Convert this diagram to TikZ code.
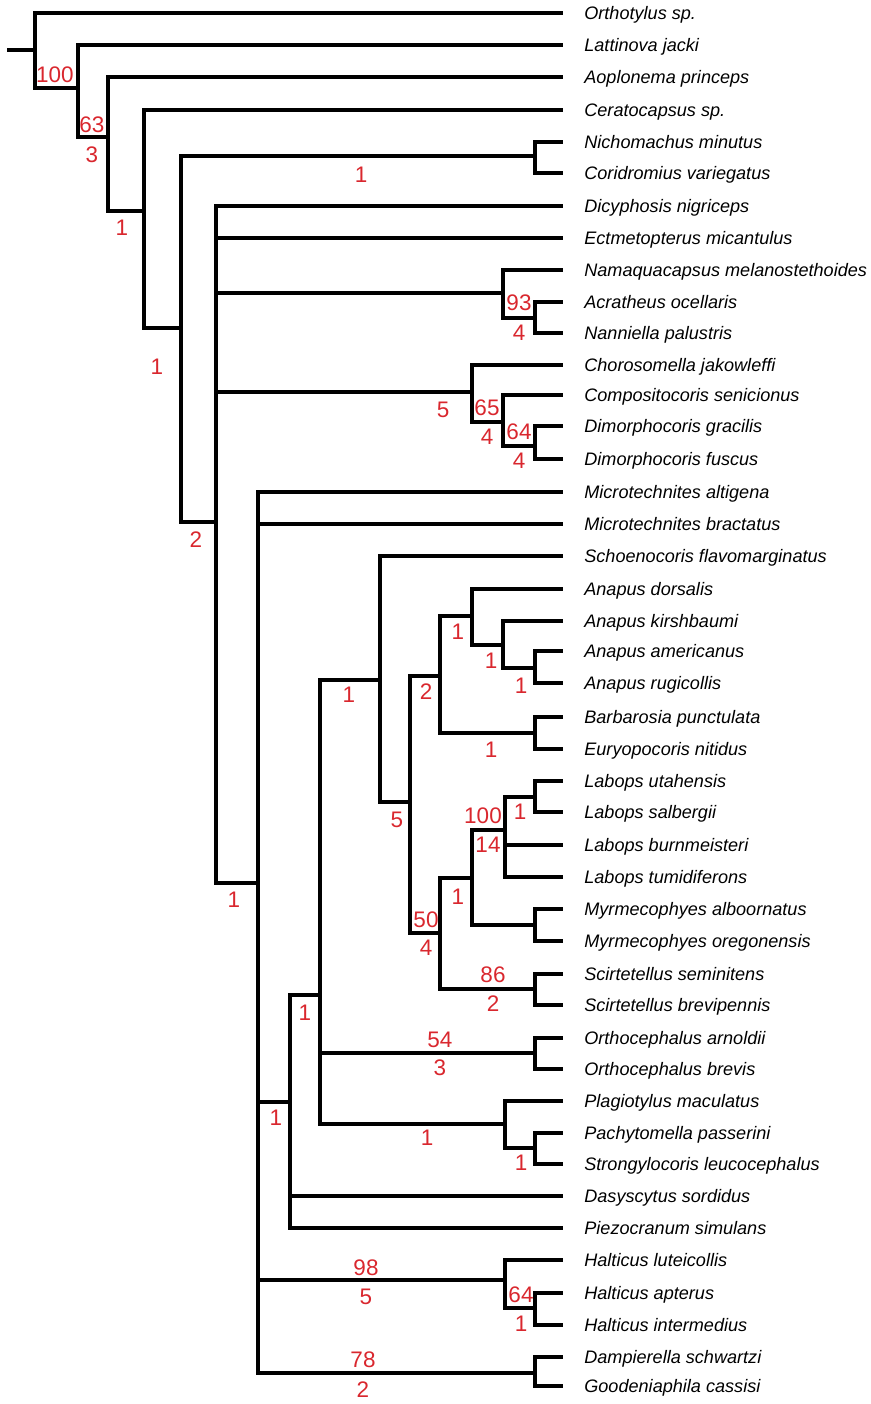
\documentclass[tikz,border=0pt]{standalone}
\usepackage{fontspec}
\setmainfont{Liberation Sans}
\usepackage{xcolor}
\definecolor{phyred}{HTML}{D9272E}
\usepackage{tikz}
\usetikzlibrary{positioning}
\tikzset{
  phybranch/.style={line width=2.2pt},
  phytaxon/.style={anchor=west,inner sep=0pt,font=\fontsize{10.3}{12}\selectfont\itshape,text height=0.72em,text depth=0pt},
  physup/.style={inner sep=0pt,text=phyred,font=\fontsize{12.8}{14}\selectfont},
}

\begin{document}
\begin{tikzpicture}[x=0.02cm,y=-0.02cm]
\useasboundingbox (0,0) rectangle (871,1404);
\foreach \i/\ty/\tname in {
  1/13/Orthotylus sp., 2/45/Lattinova jacki, 3/77/Aoplonema princeps,
  4/110/Ceratocapsus sp., 5/142/Nichomachus minutus, 6/173/Coridromius variegatus,
  7/206/Dicyphosis nigriceps, 8/238/Ectmetopterus micantulus,
  9/270/Namaquacapsus melanostethoides, 10/302/Acratheus ocellaris,
  11/333/Nanniella palustris, 12/365/Chorosomella jakowleffi,
  13/395/Compositocoris senicionus, 14/426/Dimorphocoris gracilis,
  15/459/Dimorphocoris fuscus, 16/492/Microtechnites altigena,
  17/524/Microtechnites bractatus, 18/556/Schoenocoris flavomarginatus,
  19/589/Anapus dorsalis, 20/621/Anapus kirshbaumi, 21/651/Anapus americanus,
  22/683/Anapus rugicollis, 23/717/Barbarosia punctulata, 24/749/Euryopocoris nitidus,
  25/781/Labops utahensis, 26/812/Labops salbergii, 27/845/Labops burnmeisteri,
  28/877/Labops tumidiferons, 29/909/Myrmecophyes alboornatus,
  30/941/Myrmecophyes oregonensis, 31/974/Scirtetellus seminitens,
  32/1005/Scirtetellus brevipennis, 33/1038/Orthocephalus arnoldii,
  34/1069/Orthocephalus brevis, 35/1101/Plagiotylus maculatus,
  36/1133/Pachytomella passerini, 37/1164/Strongylocoris leucocephalus,
  38/1196/Dasyscytus sordidus, 39/1228/Piezocranum simulans,
  40/1260/Halticus luteicollis, 41/1293/Halticus apterus,
  42/1325/Halticus intermedius, 43/1357/Dampierella schwartzi,
  44/1386/Goodeniaphila cassisi}{
  \coordinate (t\i) at (563,\ty);
  \node[phytaxon,right=0.42cm of t\i] (n\i) {\tname};
}

\coordinate (root) at (7,50);
\coordinate (nA) at (35,50);
\coordinate (nB) at (78,88);
\coordinate (nC) at (108,137);
\coordinate (nD) at (144,211);
\coordinate (nE) at (181,328);
\coordinate (nF) at (535,156);
\coordinate (nG) at (216,522);
\coordinate (nI) at (503,293);
\coordinate (nJ) at (535,318);
\coordinate (nK) at (472,392);
\coordinate (nL) at (503,422);
\coordinate (nM) at (535,446);
\coordinate (nH) at (258,883);
\coordinate (nP) at (290,1102);
\coordinate (nT) at (320,995);
\coordinate (nU) at (380,680);
\coordinate (nX) at (410,802);
\coordinate (nY) at (440,676);
\coordinate (nYa) at (472,616);
\coordinate (nYb) at (503,645);
\coordinate (nYc) at (535,668);
\coordinate (nBar) at (535,733);
\coordinate (nZ) at (440,933);
\coordinate (nZa) at (472,878);
\coordinate (nZb) at (505,830);
\coordinate (nZc) at (535,797);
\coordinate (nMyr) at (535,925);
\coordinate (nSci) at (535,989);
\coordinate (nOrt) at (535,1053);
\coordinate (nV) at (505,1124);
\coordinate (nW) at (535,1148);
\coordinate (nQ) at (505,1280);
\coordinate (nR) at (535,1308);
\coordinate (nS) at (535,1373);

\draw[phybranch] (root) -- (nA);
\foreach \p/\c in {nA/t1,nA/nB,nB/t2,nB/nC,nC/t3,nC/nD,nD/t4,nD/nE,
  nE/nF,nE/nG,nF/t5,nF/t6,nG/t7,nG/t8,nG/nI,nG/nK,nG/nH,
  nI/t9,nI/nJ,nJ/t10,nJ/t11,nK/t12,nK/nL,nL/t13,nL/nM,nM/t14,nM/t15,
  nH/t16,nH/t17,nH/nP,nH/nQ,nH/nS,nP/nT,nP/t38,nP/t39,
  nT/nU,nT/nOrt,nT/nV,nU/t18,nU/nX,nX/nY,nX/nZ,
  nY/nYa,nY/nBar,nYa/t19,nYa/nYb,nYb/t20,nYb/nYc,nYc/t21,nYc/t22,
  nBar/t23,nBar/t24,nZ/nZa,nZ/nSci,nZa/nZb,nZa/nMyr,
  nZb/nZc,nZb/t27,nZb/t28,nZc/t25,nZc/t26,nMyr/t29,nMyr/t30,
  nSci/t31,nSci/t32,nOrt/t33,nOrt/t34,nV/t35,nV/nW,nW/t36,nW/t37,
  nQ/t40,nQ/nR,nR/t41,nR/t42,nS/t43,nS/t44}
  \draw[phybranch] (\p) |- (\c);

\foreach \sx/\sy/\sv [count=\k] in {55/75/100, 92/125/63, 92/155/3, 122/228/1,
  157/367/1, 196/540/2, 361/175/1, 519/303/93, 519/333/4, 443/410/5,
  487/408/65, 487/437/4, 519/432/64, 519/461/4, 234/900/1, 276/1118/1,
  305/1013/1, 349/695/1, 397/820/5, 426/692/2, 426/920/50, 426/948/4,
  458/632/1, 491/661/1, 521/686/1, 491/750/1, 458/897/1, 493/975/86,
  493/1004/2, 483/816/100, 488/845/14, 520/812/1, 440/1040/54,
  440/1068/3, 427/1138/1, 521/1163/1, 366/1268/98, 366/1297/5,
  521/1295/64, 521/1324/1, 363/1360/78, 363/1390/2}
  \node[physup] (s\k) at (\sx,\sy) {\sv};
\end{tikzpicture}
\end{document}
